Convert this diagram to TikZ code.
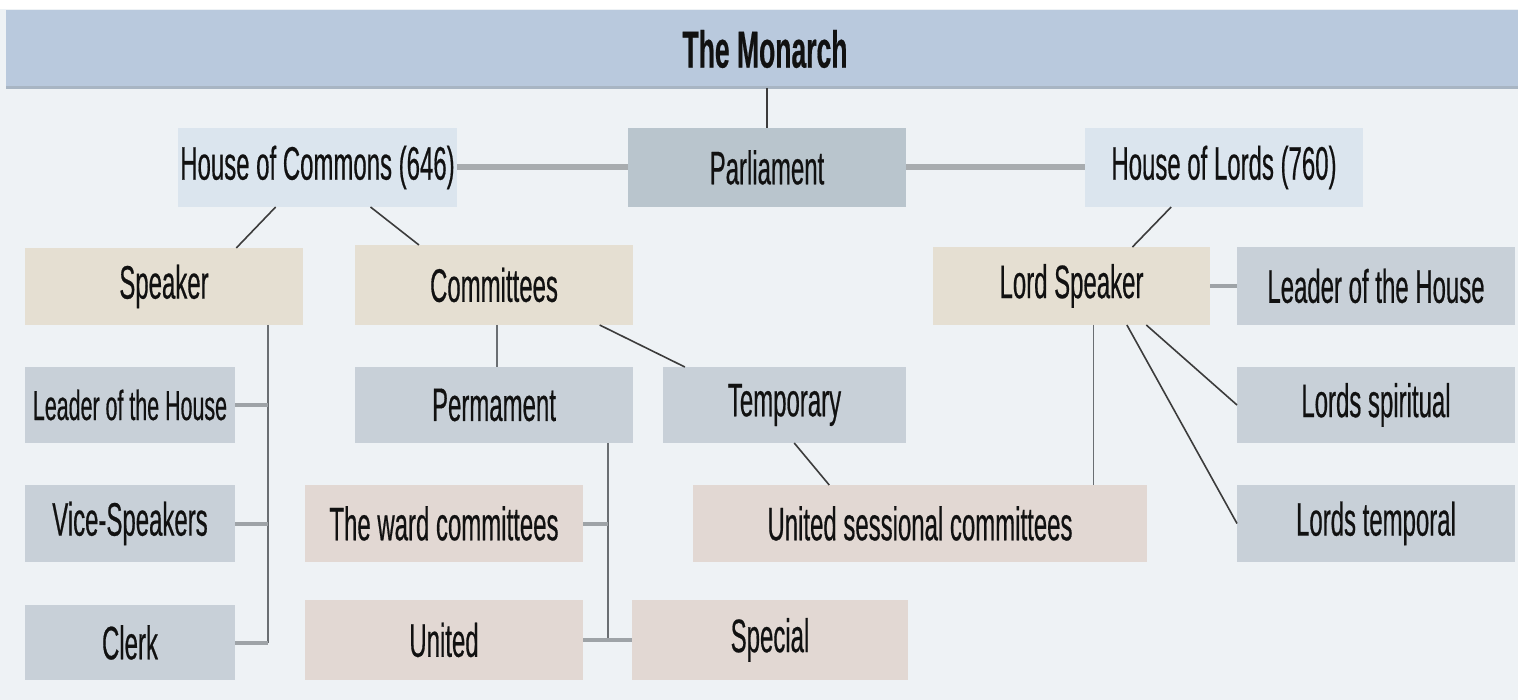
\documentclass[tikz,border=0pt]{standalone}
\usepackage{fontspec}
\setmainfont[FakeStretch=0.51, FakeBold=0.4]{Liberation Sans}
\usetikzlibrary{calc}
\definecolor{bg}{HTML}{EEF2F5}
\definecolor{banner}{HTML}{B9C9DD}
\definecolor{bannerEdge}{HTML}{A8B5C3}
\definecolor{parlc}{HTML}{B9C5CD}
\definecolor{housec}{HTML}{DBE5EE}
\definecolor{beige}{HTML}{E5DFD2}
\definecolor{grayb}{HTML}{C8D0D8}
\definecolor{pinkb}{HTML}{E2D8D3}
\definecolor{txt}{HTML}{111111}
\definecolor{thinc}{HTML}{3C3C3C}
\definecolor{vlinec}{HTML}{6A6E72}
\definecolor{stubc}{HTML}{9EA3A7}
\definecolor{thickc}{HTML}{A8ACAF}
\tikzset{
  box/.style={inner sep=0pt, outer sep=0pt, text=txt, font=\fontsize{47}{50}\selectfont},
  thinlink/.style={draw=thinc, line width=1.6pt},
  vlink/.style={draw=vlinec, line width=1.6pt},
  stublink/.style={draw=stubc, line width=4pt},
  thicklink/.style={draw=thickc, line width=6pt}
}
\begin{document}
\begin{tikzpicture}[x=1pt,y=-1pt]
\useasboundingbox (0,0) rectangle (1518,700);
\fill[bg] (0,0) rectangle (1518,700);
\fill[white] (0,0) rectangle (1518,9);
% banner
\node[box, fill=banner, minimum width=1512pt, minimum height=78pt] (monarch) at (762,49) {};
\node[box, font=\fontsize{52}{56}\selectfont\bfseries] (monarchtext) at (765,49) {The Monarch};
\fill[bannerEdge] (6,86) rectangle (1518,89);
% level 1
\node[box, fill=parlc, minimum width=278pt, minimum height=79pt] (parl) at (767,167.5) {Parliament};
\node[box, fill=housec, minimum width=279pt, minimum height=79pt] (hoc) at (317.5,167.5) {House of Commons (646)};
\node[box, fill=housec, minimum width=278pt, minimum height=79pt] (hol) at (1224,167.5) {House of Lords (760)};
% level 2
\node[box, fill=beige, minimum width=278pt, minimum height=77pt] (spk) at (164,286.5) {Speaker};
\node[box, fill=beige, minimum width=278pt, minimum height=80pt] (comm) at (494,285) {Committees};
\node[box, fill=beige, minimum width=277pt, minimum height=78pt] (lspk) at (1071.5,286) {Lord Speaker};
\node[box, fill=grayb, minimum width=278pt, minimum height=78pt] (lhr) at (1376,286) {Leader of the House};
% left column
\node[box, fill=grayb, minimum width=210pt, minimum height=76pt, font=\fontsize{42}{46}\selectfont] (lhl) at (130,405) {Leader of the House};
\node[box, fill=grayb, minimum width=210pt, minimum height=77pt] (vice) at (130,523.5) {Vice-Speakers};
\node[box, fill=grayb, minimum width=210pt, minimum height=75pt] (clerk) at (130,642.5) {Clerk};
% committees
\node[box, fill=grayb, minimum width=278pt, minimum height=76pt] (perm) at (494,405) {Permament};
\node[box, fill=grayb, minimum width=243pt, minimum height=76pt] (temp) at (784.5,405) {Temporary};
\node[box, fill=pinkb, minimum width=278pt, minimum height=77pt] (ward) at (444,523.5) {The ward committees};
\node[box, fill=pinkb, minimum width=278pt, minimum height=80pt] (united) at (444,640) {United};
\node[box, fill=pinkb, minimum width=276pt, minimum height=80pt] (special) at (770,640) {Special};
\node[box, fill=pinkb, minimum width=454pt, minimum height=77pt] (usc) at (920,523.5) {United sessional committees};
% lords
\node[box, fill=grayb, minimum width=278pt, minimum height=76pt] (lsp) at (1376,405) {Lords spiritual};
\node[box, fill=grayb, minimum width=278pt, minimum height=77pt] (lt) at (1376,523.5) {Lords temporal};
% connectors
\draw[thinlink] (parl.north |- monarch.south) -- (parl.north);
\draw[thicklink] (hoc.east) -- (parl.west);
\draw[thicklink] (parl.east) -- (hol.west);
\draw[thinlink] ($(hoc.south west)!0.35!(hoc.south east)$) -- ($(spk.north west)!0.76!(spk.north east)$);
\draw[thinlink] ($(hoc.south west)!0.69!(hoc.south east)$) -- ($(comm.north west)!0.23!(comm.north east)$);
\draw[thinlink] ($(hol.south west)!0.31!(hol.south east)$) -- ($(lspk.north west)!0.72!(lspk.north east)$);
\draw[vlink] ($(comm.south west)!0.51!(comm.south east)$) -- ($(perm.north west)!0.51!(perm.north east)$);
\draw[thinlink] ($(comm.south west)!0.88!(comm.south east)$) -- ($(temp.north west)!0.09!(temp.north east)$);
\draw[thinlink] ($(temp.south west)!0.54!(temp.south east)$) -- ($(usc.north west)!0.30!(usc.north east)$);
\coordinate (lsv) at ($(lspk.south west)!0.58!(lspk.south east)$);
\draw[vlink] (lsv) -- (lsv |- usc.north);
\draw[thinlink] ($(lspk.south west)!0.77!(lspk.south east)$) -- (lsp.west);
\draw[thinlink] ($(lspk.south west)!0.70!(lspk.south east)$) -- (lt.west);
\draw[stublink] (lspk.east) -- (lhr.west);
% speaker bracket
\coordinate (sb) at ($(spk.south west)!0.874!(spk.south east)$);
\draw[vlink] (sb) -- (sb |- clerk.east);
\draw[stublink] (lhl.east) -- (lhl.east -| sb);
\draw[stublink] (vice.east) -- (vice.east -| sb);
\draw[stublink] (clerk.east) -- (clerk.east -| sb);
% permament bracket
\coordinate (pb) at ($(perm.south west)!0.91!(perm.south east)$);
\draw[vlink] (pb) -- (pb |- united.east);
\draw[stublink] (ward.east) -- (ward.east -| pb);
\draw[stublink] (united.east) -- (special.west);
\end{tikzpicture}
\end{document}
